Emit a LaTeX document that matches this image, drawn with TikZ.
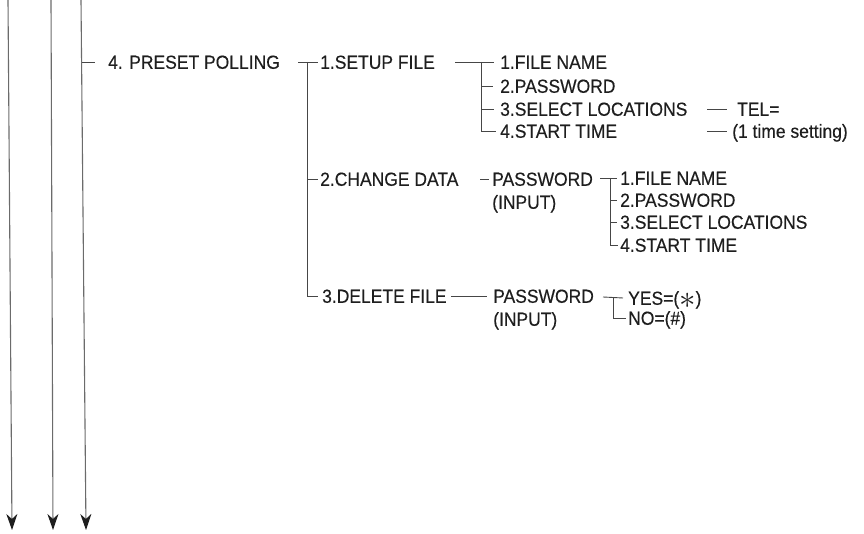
\documentclass[tikz,border=0pt]{standalone}
\usepackage{fontspec}
\setmainfont{Liberation Sans}[FakeStretch=0.92,FakeBold=0.35]
\usepackage{tikz}
\usetikzlibrary{arrows.meta,positioning,calc}
\definecolor{inkgray}{RGB}{30,30,30}
\definecolor{linegray}{RGB}{70,70,70}

\begin{document}
\begin{tikzpicture}[x=1pt,y=-1pt,
  menu/.style={anchor=west, inner sep=0pt, text height=13.6pt, text depth=0pt,
    text=inkgray, font=\fontsize{19}{22}\selectfont},
  wire/.style={draw=linegray, line width=0.9pt},
  flow/.style={draw=linegray!80, line width=1.1pt,
    -{Stealth[length=16pt,width=11pt,inset=5pt,color=inkgray]}}]
\useasboundingbox (0,0) rectangle (864,534);
\begin{scope}
% the three running lines
\coordinate (ta) at (8,0);   \coordinate (ba) at (12,530);
\coordinate (tb) at (51,0);  \coordinate (bb) at (53,530);
\coordinate (tc) at (81,0);  \coordinate (bc) at (86,530);
\draw[flow] (ta) -- (ba);
\draw[flow] (tb) -- (bb);
\draw[flow] (tc) -- (bc);

% menu entries
\node[menu] (poll) at (108,62) {4. PRESET POLLING};
\node[menu] (setup) at (320,62) {1.SETUP FILE};
\node[menu] (fnameA) at (500,62) {1.FILE NAME};
\node[menu] (pwA) at (500,86) {2.PASSWORD};
\node[menu] (locA) at (500,109) {3.SELECT LOCATIONS};
\node[menu] (startA) at (500,131) {4.START TIME};
\node[menu] (tel) at (737,109) {TEL=};
\node[menu] (once) at (732,131) {(1 time setting)};
\node[menu] (change) at (320,179) {2.CHANGE DATA};
\node[menu] (pwB) at (492,179) {PASSWORD};
\node[menu] (inB) at (492,202) {(INPUT)};
\node[menu] (fnameB) at (620,178) {1.FILE NAME};
\node[menu] (pwC) at (620,200) {2.PASSWORD};
\node[menu] (locB) at (620,222) {3.SELECT LOCATIONS};
\node[menu] (startB) at (620,245) {4.START TIME};
\node[menu] (delete) at (322,296) {3.DELETE FILE};
\node[menu] (pwD) at (493,296) {PASSWORD};
\node[menu] (inD) at (493,319) {(INPUT)};
\node[menu] (yes) at (628,298) {YES=(\raisebox{-0.2em}{\scalebox{1.9}{$\ast$}})};
\node[menu] (no) at (628,318) {NO=(\#)};

% branch points
\coordinate (tick) at (82,62);
\coordinate (jA) at (307,62);
\coordinate (jB) at (481,62);
\coordinate (jC) at (610,178);
\coordinate (jD) at (613,297);

\draw[wire, shorten >=13pt] (tick) -- (poll.west);
\draw[wire] ($(jA)+(-9,0)$) -- ([xshift=-2pt]setup.west);
\draw[wire] (jA) |- ([xshift=-4pt]delete.west);
\draw[wire] (jA |- change.west) -- ([xshift=-2pt]change.west);

\draw[wire] ($(jB)+(-26,0)$) -- ([xshift=-6pt]fnameA.west);
\draw[wire] (jB) |- ([xshift=-4pt]startA.west);
\draw[wire] (jB |- pwA.west) -- ([xshift=-7pt]pwA.west);
\draw[wire] (jB |- locA.west) -- ([xshift=-6pt]locA.west);
\draw[wire] ([xshift=-30pt]tel.west) -- ([xshift=-10pt]tel.west);
\draw[wire] ([xshift=-25pt]once.west) -- ([xshift=-5pt]once.west);

\draw[wire] ([xshift=-12pt]pwB.west) -- ([xshift=-3pt]pwB.west);
\draw[wire] ($(jC)+(-10,0)$) -- ([xshift=-3pt]fnameB.west);
\draw[wire] (jC) |- ([xshift=-2pt]startB.west);
\draw[wire] (jC |- pwC.west) -- ([xshift=-3pt]pwC.west);
\draw[wire] (jC |- locB.west) -- ([xshift=-3pt]locB.west);

\draw[wire] ([xshift=4pt]delete.east) -- ([xshift=-6pt]pwD.west);
\draw[wire] ($(jD)+(-10,0)$) -- ([xshift=-5pt]yes.west);
\draw[wire] (jD) |- ([xshift=-2pt]no.west);
\end{scope}
\end{tikzpicture}
\end{document}
